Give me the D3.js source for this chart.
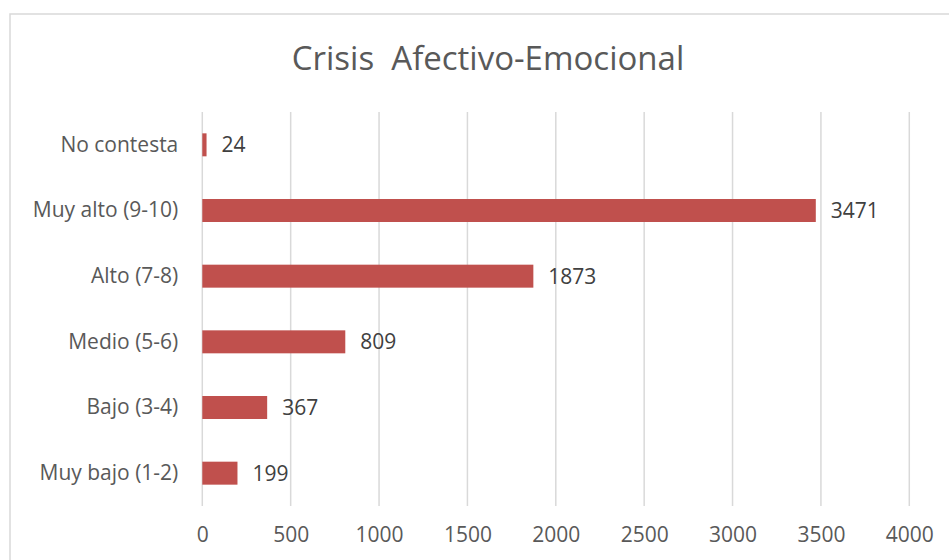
<!DOCTYPE html>
<html>
<head>
<meta charset="utf-8">
<script src="https://cdn.jsdelivr.net/npm/d3@7"></script>
<style>
  html, body { margin: 0; padding: 0; background: #fff; }
  svg text { font-family: "Open Sans", "Noto Sans", sans-serif; fill: #595959; }
</style>
</head>
<body>
<svg id="chart" width="949" height="560"></svg>
<script>
// Respuestas por nivel de crisis afectivo-emocional
const categories = ["No contesta", "Muy alto (9-10)", "Alto (7-8)", "Medio (5-6)", "Bajo (3-4)", "Muy bajo (1-2)"];
const values = [24, 3471, 1873, 809, 367, 199];
const tickValues = [0, 500, 1000, 1500, 2000, 2500, 3000, 3500, 4000];
const title = "Crisis  Afectivo-Emocional";

const svg = d3.select("#chart");
const plot = { left: 202.3, right: 909.3, top: 112, bottom: 506 };
const labelSize = 21;

// Marco del área del gráfico
svg.append("rect")
  .attr("x", 10).attr("y", 14)
  .attr("width", 1000).attr("height", 700)
  .attr("fill", "#fff")
  .attr("stroke", "#d9d9d9")
  .attr("stroke-width", 1.5);

const x = d3.scaleLinear().domain([0, 4000]).range([plot.left, plot.right]);
const y = d3.scaleBand().domain(categories).range([plot.top, plot.bottom]).paddingInner(0.65).paddingOuter(0.325);

// Líneas de cuadrícula verticales
svg.append("g")
  .selectAll("line")
  .data(tickValues)
  .join("line")
  .attr("x1", d => x(d)).attr("x2", d => x(d))
  .attr("y1", plot.top).attr("y2", plot.bottom)
  .attr("stroke", "#d9d9d9")
  .attr("stroke-width", 1.5);

// Eje X (etiquetas)
const xAxis = d3.axisBottom(x).tickValues(tickValues).tickFormat(d3.format("d")).tickSize(0).tickPadding(0);
const gx = svg.append("g")
  .attr("transform", `translate(0,${plot.bottom + 21})`)
  .call(xAxis);
gx.select(".domain").remove();
gx.selectAll("text")
  .attr("font-size", labelSize)
  .attr("dy", "0.71em")
  .style("font-family", "\"Open Sans\", sans-serif")
  .style("fill", "#595959");

// Eje Y (categorías)
const yAxis = d3.axisLeft(y).tickSize(0).tickPadding(0);
const gy = svg.append("g")
  .attr("transform", `translate(${plot.left - 24},0)`)
  .call(yAxis);
gy.select(".domain").remove();
gy.selectAll("text")
  .attr("font-size", labelSize)
  .style("font-family", "\"Open Sans\", sans-serif")
  .style("fill", "#595959");

// Barras
svg.append("g")
  .selectAll("rect")
  .data(values)
  .join("rect")
  .attr("x", x(0))
  .attr("y", (d, i) => y(categories[i]))
  .attr("width", d => x(d) - x(0))
  .attr("height", y.bandwidth())
  .attr("fill", "#c0504d");

// Etiquetas de valor
svg.append("g")
  .selectAll("text")
  .data(values)
  .join("text")
  .attr("x", d => x(d) + 15)
  .attr("y", (d, i) => y(categories[i]) + y.bandwidth() / 2)
  .attr("dy", "0.35em")
  .attr("font-size", labelSize)
  .style("fill", "#404040")
  .text(d => d);

// Título
svg.append("text")
  .attr("x", 488)
  .attr("y", 58)
  .attr("dy", "0.35em")
  .attr("text-anchor", "middle")
  .attr("font-size", 33)
  .style("white-space", "pre")
  .text(title);
</script>
</body>
</html>
